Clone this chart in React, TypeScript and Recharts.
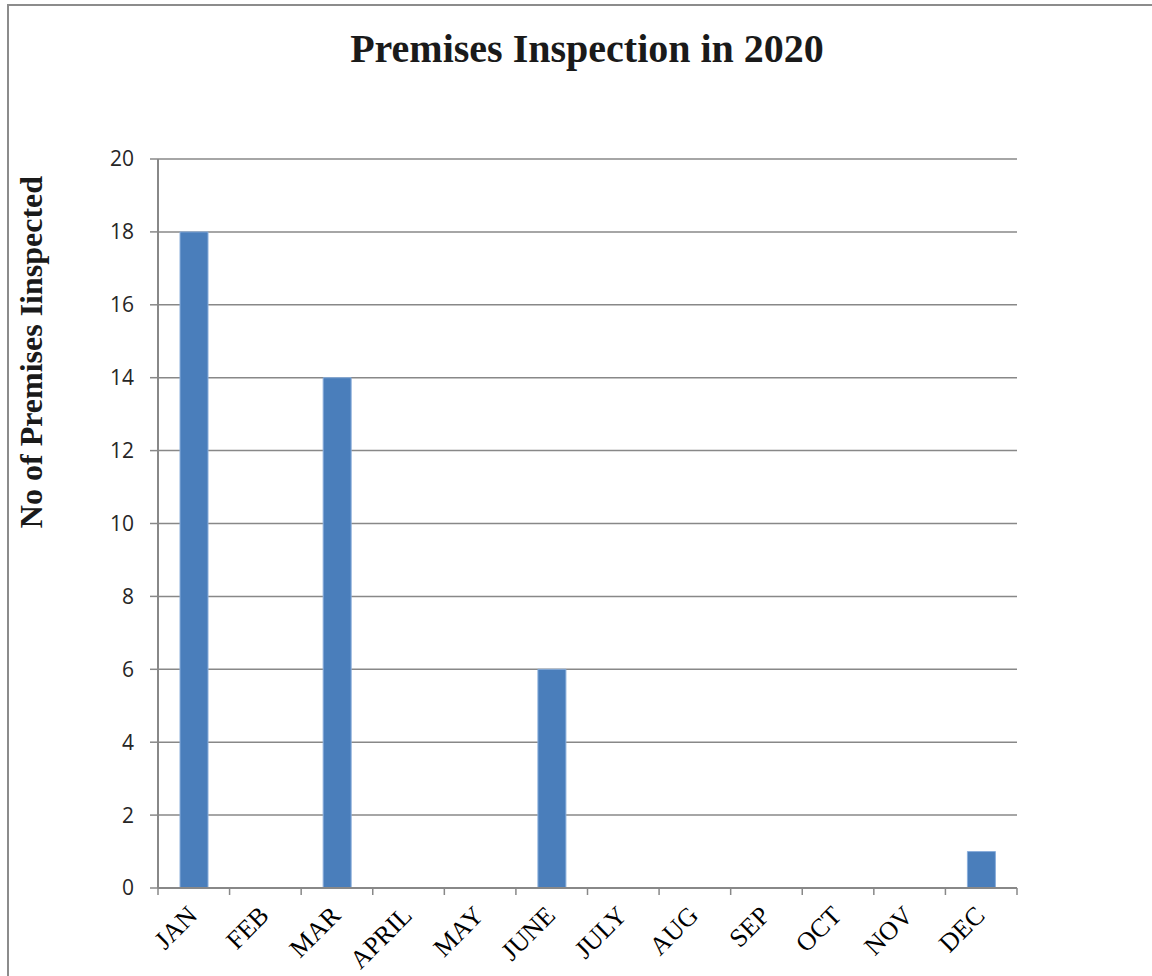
import React from 'react';
import { BarChart, Bar, XAxis, YAxis, CartesianGrid } from 'recharts';

const months = ['JAN', 'FEB', 'MAR', 'APRIL', 'MAY', 'JUNE', 'JULY', 'AUG', 'SEP', 'OCT', 'NOV', 'DEC'];
const inspected = [18, 0, 14, 0, 0, 6, 0, 0, 0, 0, 0, 1];
const yTicks = [0, 2, 4, 6, 8, 10, 12, 14, 16, 18, 20];

const chartData = months.map((m, i) => ({ month: m, value: inspected[i] }));

const W = 1152;
const H = 976;
const PLOT_LEFT = 158;
const PLOT_RIGHT = 1017;
const PLOT_TOP = 159;
const PLOT_BOTTOM = 888;
const Y_AXIS_W = 60;
const X_AXIS_H = 30;
const BAND = (PLOT_RIGHT - PLOT_LEFT) / months.length;
const LINE = '#888888';

const MonthTick = (props: any) => {
  const { x, payload, index } = props;
  const tx = x + 5;
  const ty = PLOT_BOTTOM + 29;
  return (
    <g>
      <line x1={x - BAND / 2} x2={x - BAND / 2} y1={PLOT_BOTTOM} y2={PLOT_BOTTOM + 7} stroke={LINE} strokeWidth={1.5} />
      {index === months.length - 1 && (
        <line x1={x + BAND / 2} x2={x + BAND / 2} y1={PLOT_BOTTOM} y2={PLOT_BOTTOM + 7} stroke={LINE} strokeWidth={1.5} />
      )}
      <text
        x={tx}
        y={ty}
        transform={`rotate(-45, ${tx}, ${ty})`}
        textAnchor="end"
        fontFamily="'Liberation Serif', serif"
        fontSize={26}
        fill="#000"
      >
        {payload.value}
      </text>
    </g>
  );
};

export default function App() {
  return (
    <div style={{ position: 'fixed', left: 0, top: 0, width: W, height: H, overflow: 'hidden', background: '#fff' }}>
      <div style={{ position: 'absolute', left: 0, top: 0 }}>
        <BarChart
          width={W}
          height={H}
          data={chartData}
          margin={{ top: PLOT_TOP, right: W - PLOT_RIGHT, bottom: H - PLOT_BOTTOM - X_AXIS_H, left: PLOT_LEFT - Y_AXIS_W }}
        >
          <CartesianGrid vertical={false} stroke={LINE} strokeWidth={1.5} />
          <XAxis
            dataKey="month"
            height={X_AXIS_H}
            interval={0}
            tickLine={false}
            axisLine={{ stroke: LINE, strokeWidth: 2 }}
            tick={<MonthTick />}
          />
          <YAxis
            width={Y_AXIS_W}
            domain={[0, 20]}
            ticks={yTicks}
            interval={0}
            tickSize={8}
            tickMargin={16}
            tickLine={{ stroke: LINE, strokeWidth: 1.5 }}
            axisLine={{ stroke: LINE, strokeWidth: 2 }}
            tick={{ fontFamily: "'Open Sans', sans-serif", fontSize: 21, fill: '#262626' }}
          />
          <Bar dataKey="value" fill="#4a7ebb" stroke="#8aaedb" strokeWidth={1} barSize={28} isAnimationActive={false} />
        </BarChart>
      </div>
      <svg width={W} height={H} style={{ position: 'absolute', left: 0, top: 0, pointerEvents: 'none' }}>
        {/* outer frame, open on the right and bottom like the source */}
        <path d={`M8 ${H} V5 H${W}`} fill="none" stroke="#8c8c8c" strokeWidth={2} />
        <text
          x={587}
          y={62}
          textAnchor="middle"
          fontFamily="'Liberation Serif', serif"
          fontWeight="bold"
          fontSize={40}
          fill="#1a1a1a"
        >
          Premises Inspection in 2020
        </text>
        <text
          x={42}
          y={352}
          transform="rotate(-90, 42, 352)"
          textAnchor="middle"
          fontFamily="'Liberation Serif', serif"
          fontWeight="bold"
          fontSize={32}
          fill="#1a1a1a"
        >
          No of Premises Iinspected
        </text>
      </svg>
    </div>
  );
}
